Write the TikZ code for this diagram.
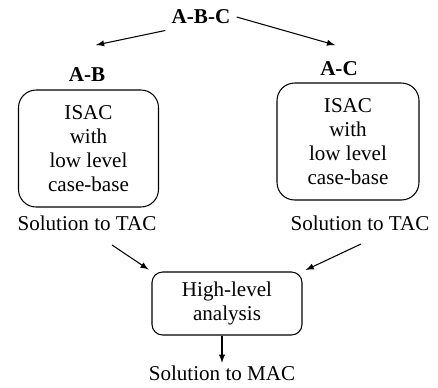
\documentclass[tikz,border=0pt]{standalone}
\usepackage{fontspec}
\setmainfont{Liberation Serif}
\usetikzlibrary{arrows}

\begin{document}
\begin{tikzpicture}[x=0.02cm, y=-0.02cm, line width=0.6pt,
    every node/.style={font=\fontsize{12}{13.6}\selectfont, align=center},
    casebox/.style={draw, rounded corners=10pt, minimum width=2.8cm, minimum height=2.34cm}]
    \useasboundingbox (0,0) rectangle (438,387);

    \node (abc) at (201,17) {\textbf{A-B-C}};
    \node (ab) at (87,75) {\textbf{A-B}};
    \node (ac) at (339,69) {\textbf{A-C}};

    \node[casebox] (lbox) at (88.5,148.5) {ISAC\\with\\low level\\case-base};
    \node[casebox, minimum width=2.84cm] (rbox) at (348,141.5) {ISAC\\with\\low level\\case-base};

    \node (tacl) at (87,223) {Solution to TAC};
    \node (tacr) at (360,223) {Solution to TAC};

    \node[draw, rounded corners=6pt, minimum width=3cm, minimum height=1.26cm] (hl) at (227,303.5) {High-level\\analysis};
    \node (mac) at (222,373) {Solution to MAC};

    % free ends of the arrows
    \coordinate (abend) at (96,45);
    \coordinate (acend) at (335,45);
    \coordinate (tlstart) at (112,245);
    \coordinate (trstart) at (361,244);

    \draw[-latex] (abc.south west) -- (abend);
    \draw[-latex] (abc.east) -- (acend);
    \draw[-latex, shorten >=2pt] (tlstart) -- (hl.north west);
    \draw[-latex, shorten >=2pt] (trstart) -- (hl.north east);
    \draw[-latex, shorten >=-2pt] (hl.south -| mac) -- (mac.north);

\end{tikzpicture}
\end{document}
